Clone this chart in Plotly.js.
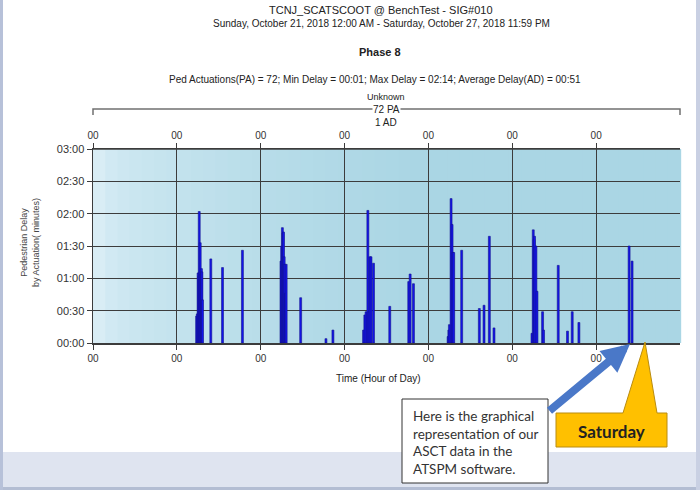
<!DOCTYPE html>
<html>
<head>
<meta charset="utf-8">
<script src="https://cdn.plot.ly/plotly-3.0.1.min.js"></script>
<style>
  body { margin: 0; background: #ffffff; }
  #plot { width: 700px; height: 490px; }
</style>
</head>
<body>
<div id="plot"></div>
<script>
// one bar per pedestrian actuation: time of call and delay in seconds
var actTimes = [
  "2018-10-22 05:40", "2018-10-22 05:51", "2018-10-22 06:05", "2018-10-22 06:17",
  "2018-10-22 06:24", "2018-10-22 06:34", "2018-10-22 06:41", "2018-10-22 06:51",
  "2018-10-22 07:02", "2018-10-22 07:10", "2018-10-22 07:20",
  "2018-10-22 09:43", "2018-10-22 13:04", "2018-10-22 18:46",
  "2018-10-23 05:48", "2018-10-23 06:00", "2018-10-23 06:12", "2018-10-23 06:22",
  "2018-10-23 06:31", "2018-10-23 06:43", "2018-10-23 06:55", "2018-10-23 07:05",
  "2018-10-23 07:17",
  "2018-10-23 11:26", "2018-10-23 18:40", "2018-10-23 20:40",
  "2018-10-24 05:26", "2018-10-24 05:48", "2018-10-24 06:09", "2018-10-24 06:40",
  "2018-10-24 06:57", "2018-10-24 07:14", "2018-10-24 07:34", "2018-10-24 08:17",
  "2018-10-24 12:56", "2018-10-24 18:22", "2018-10-24 18:46", "2018-10-24 19:43",
  "2018-10-25 05:38", "2018-10-25 05:51", "2018-10-25 06:00", "2018-10-25 06:29",
  "2018-10-25 06:46", "2018-10-25 07:00", "2018-10-25 07:14",
  "2018-10-25 09:31", "2018-10-25 14:34", "2018-10-25 15:55", "2018-10-25 17:26",
  "2018-10-25 18:46",
  "2018-10-26 05:38", "2018-10-26 06:00", "2018-10-26 06:14", "2018-10-26 06:22",
  "2018-10-26 06:46", "2018-10-26 07:04",
  "2018-10-26 08:40", "2018-10-26 08:57", "2018-10-26 13:09", "2018-10-26 15:48",
  "2018-10-26 17:09", "2018-10-26 19:04",
  "2018-10-27 09:26", "2018-10-27 10:17"
];
var delaySec = [
  25, 27, 65, 62,
  122, 66, 93, 64,
  69, 66, 40,
  78, 70, 86,
  76, 90, 107, 102,
  103, 80, 73, 46,
  73,
  42, 4, 12,
  12, 26, 29, 123,
  29, 80, 80, 74,
  34, 57, 64, 55,
  6, 12, 17, 134,
  110, 84, 84,
  86, 32, 35, 99,
  14,
  9, 105, 96, 99,
  90, 48,
  29, 12, 72, 11,
  29, 19,
  90, 76
];

var dayTicks = ["2018-10-21", "2018-10-22", "2018-10-23", "2018-10-24",
                "2018-10-25", "2018-10-26", "2018-10-27"];
var delayTicks = [0, 30, 60, 90, 120, 150, 180];
var delayLabels = ["00:00", "00:30", "01:00", "01:30", "02:00", "02:30", "03:00"];

var FONT = "Liberation Sans, Arial, sans-serif";
var CALLOUT = "Lato, Open Sans, sans-serif";
var GRID = "#3c3c3c";

// pixel -> paper helpers (plot area is 93..680 x 149..343)
function px(x) { return (x - 93) / 587; }
function py(y) { return (343 - y) / 194; }

var bars = {
  type: "bar",
  x: actTimes,
  y: delaySec,
  width: 2.0e6,
  marker: { color: "#1414ee", line: { color: "#12128c", width: 0.6 } },
  hoverinfo: "x+y"
};
var topAxisTrace = { type: "scatter", x: [], y: [], xaxis: "x2", yaxis: "y", showlegend: false };

// background gradient of the plot area, light on the left
var shapes = [];
var N = 48;
for (var i = 0; i < N; i++) {
  var t = i / N;
  var k = Math.min(1, 0.08 + Math.pow(t / 0.62, 0.55));
  var r = Math.round(221 - (221 - 170) * k);
  var g = Math.round(239 - (239 - 214) * k);
  var b = Math.round(247 - (247 - 228) * k);
  shapes.push({
    type: "rect", layer: "below", xref: "x domain", yref: "y domain",
    x0: t, x1: (i + 1) / N + 0.002, y0: 0, y1: 1,
    fillcolor: "rgb(" + r + "," + g + "," + b + ")", line: { width: 0 }
  });
}

// top edge of the grid (03:00 line)
shapes.push({
  type: "line", xref: "x domain", yref: "y domain",
  x0: 0, x1: 1, y0: 1, y1: 1,
  line: { color: GRID, width: 1.5 }
});

// screenshot frame
shapes.push(
  { type: "rect", xref: "paper", yref: "paper", x0: px(0), x1: px(700), y0: py(452), y1: py(490),
    fillcolor: "#dfe4f0", line: { width: 0 } },
  { type: "rect", xref: "paper", yref: "paper", x0: px(0), x1: px(700), y0: py(487), y1: py(490),
    fillcolor: "#b3bdd3", line: { width: 0 } },
  { type: "rect", xref: "paper", yref: "paper", x0: px(0), x1: px(3), y0: py(0), y1: py(490),
    fillcolor: "#b7c1d9", line: { width: 0 } },
  { type: "rect", xref: "paper", yref: "paper", x0: px(696), x1: px(700), y0: py(0), y1: py(490),
    fillcolor: "#c9d0e3", line: { width: 0 } }
);

// "72 PA" bracket
shapes.push({
  type: "path", xref: "paper", yref: "paper",
  path: "M " + px(93) + "," + py(115) + " L " + px(93) + "," + py(109) +
        " L " + px(680) + "," + py(109) + " L " + px(680) + "," + py(115),
  line: { color: "#707070", width: 1.5 }
});

// text callout box
shapes.push({
  type: "rect", xref: "paper", yref: "paper",
  x0: px(402), x1: px(548), y0: py(483), y1: py(399),
  fillcolor: "#ffffff", line: { color: "#333333", width: 1 }
});

// "Saturday" callout with pointer
shapes.push({
  type: "path", xref: "paper", yref: "paper",
  path: "M " + px(556) + "," + py(413) + " L " + px(623) + "," + py(413) +
        " L " + px(645) + "," + py(342) + " L " + px(657) + "," + py(413) +
        " L " + px(667) + "," + py(413) + " L " + px(667) + "," + py(447) +
        " L " + px(556) + "," + py(447) + " Z",
  fillcolor: "#ffc000", line: { color: "#b98c10", width: 1 }
});

function txt(x, y, text, size, extra) {
  var a = {
    xref: "paper", yref: "paper", x: px(x), y: py(y), text: text,
    showarrow: false, xanchor: "center", yanchor: "middle",
    font: { family: FONT, size: size, color: "#222222" }
  };
  for (var key in extra) a[key] = extra[key];
  return a;
}

var annotations = [
  txt(381, 10, "TCNJ_SCATSCOOT @ BenchTest - SIG#010", 11),
  txt(381, 23, "Sunday, October 21, 2018 12:00 AM - Saturday, October 27, 2018 11:59 PM", 10),
  txt(380, 52, "<b>Phase 8</b>", 11),
  txt(375, 80, "Ped Actuations(PA) = 72; Min Delay = 00:01; Max Delay = 02:14; Average Delay(AD) = 00:51", 10),
  txt(386, 97, "Unknown", 9),
  txt(386, 109, "72 PA", 10, { bgcolor: "#ffffff", borderpad: 0 }),
  txt(386, 122, "1 AD", 10),
  txt(378, 378, "Time (Hour of Day)", 10),
  txt(30, 243, "Pedestrian Delay<br>by Actuation( minutes)", 9, { textangle: -90, font: { family: FONT, size: 9, color: "#444444" } }),
  txt(475, 442, "Here is the graphical<br>representation of our<br>ASCT data in the<br>ATSPM software.", 13.5,
      { xanchor: "left", x: px(411), align: "left",
        font: { family: CALLOUT, size: 13.5, color: "#333333" } }),
  txt(611, 431, "<b>Saturday</b>", 17, { font: { family: CALLOUT, size: 17, color: "#222222" } }),
  {
    xref: "paper", yref: "paper", x: px(630), y: py(344), ax: -82, ay: 68,
    text: "", showarrow: true, arrowhead: 2, arrowsize: 0.7, arrowwidth: 8,
    arrowcolor: "#4a78c8", standoff: 0
  }
];

var xAxisBase = {
  type: "date",
  range: ["2018-10-21", "2018-10-28"],
  tickvals: dayTicks,
  tickformat: "%H",
  ticks: "outside", ticklen: 5, tickcolor: GRID, tickwidth: 1,
  showgrid: true, gridcolor: GRID, gridwidth: 1,
  zeroline: false, showline: true, linecolor: GRID, linewidth: 1.5,
  tickfont: { family: FONT, size: 10, color: "#333333" },
  fixedrange: true
};

var xaxis2 = {};
for (var key in xAxisBase) xaxis2[key] = xAxisBase[key];
xaxis2.overlaying = "x";
xaxis2.side = "top";
xaxis2.showgrid = false;

var layout = {
  width: 700, height: 490,
  margin: { l: 93, r: 20, t: 149, b: 147 },
  paper_bgcolor: "#ffffff",
  plot_bgcolor: "rgba(0,0,0,0)",
  showlegend: false,
  barmode: "overlay",
  xaxis: xAxisBase,
  xaxis2: xaxis2,
  yaxis: {
    range: [0, 180],
    tickvals: delayTicks,
    ticktext: delayLabels,
    ticks: "outside", ticklen: 5, tickcolor: GRID,
    showgrid: true, gridcolor: GRID, gridwidth: 1,
    zeroline: false, showline: true, linecolor: GRID, linewidth: 1.5,
    tickfont: { family: FONT, size: 11, color: "#333333" },
    fixedrange: true
  },
  shapes: shapes,
  annotations: annotations
};

Plotly.newPlot("plot", [bars, topAxisTrace], layout, { displayModeBar: false, staticPlot: true });
</script>
</body>
</html>
